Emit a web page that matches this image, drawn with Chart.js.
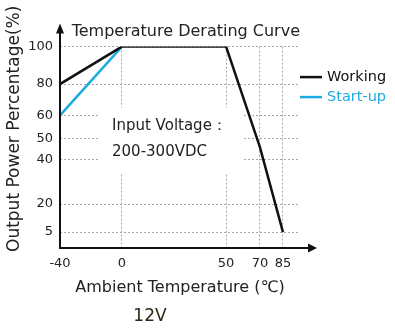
<!DOCTYPE html>
<html>
<head>
<meta charset="utf-8">
<script src="https://cdn.jsdelivr.net/npm/chart.js@4.4.1/dist/chart.umd.min.js"></script>
<style>
    html, body { margin: 0; padding: 0; background: #fff; }
    canvas { display: block; }
</style>
</head>
<body>
<canvas id="deratingChart" width="395" height="331"></canvas>
<script>
// temperature derating curve (12V)

const tempPoints = [-40, 0, 50, 70, 85];
const workingLoad = [80, 100, 100, 46, 5];
const startupTemps = [-40, 0];
const startupLoad = [60, 100];

const xTicks = [-40, 0, 50, 70, 85];
const yTicks = [5, 20, 40, 50, 60, 80, 100];

const chartTitle = 'Temperature Derating Curve';
const xTitle = 'Ambient Temperature (℃)';
const yTitle = 'Output Power Percentage(%)';
const modelLabel = '12V';
const noteLines = ['Input Voltage：', '200-300VDC'];

// printed axes are not evenly spaced -> [value, fraction of axis] stops,
// linear in between
const axisStops = {
    x: [[-40, 0], [0, 0.258], [50, 0.692], [70, 0.833], [85, 0.929], [96, 1]],
    y: [[-3.6, 0], [5, 0.079], [20, 0.218], [40, 0.437], [50, 0.544], [60, 0.658], [80, 0.814], [100, 1]]
};

const FONT = 'DejaVu Sans';
const INK = '#222';

function interp(stops, v, from, to) {
    let i = 0;
    while (i < stops.length - 2 && v > stops[i + 1][from]) i++;
    const a = stops[i], b = stops[i + 1];
    return a[to] + (v - a[from]) * (b[to] - a[to]) / (b[from] - a[from]);
}

class PiecewiseScale extends Chart.LinearScale {
    getPixelForValue(value) {
        return this.getPixelForDecimal(interp(axisStops[this.axis], value, 0, 1));
    }
    getValueForPixel(pixel) {
        return interp(axisStops[this.axis], this.getDecimalForPixel(pixel), 1, 0);
    }
}
PiecewiseScale.id = 'piecewise';
PiecewiseScale.defaults = Chart.LinearScale.defaults;
Chart.register(PiecewiseScale);

Chart.defaults.font.family = FONT;
Chart.defaults.color = INK;

// ----------------------
// extra drawing: note box, arrowed axes, y title, legend
// ----------------------
const decorPlugin = {
    id: 'decor',
    beforeDatasetsDraw(chart) {
        const { ctx, chartArea: a } = chart;
        ctx.save();
        // the note sits on a blank patch of the grid
        ctx.fillStyle = '#fff';
        ctx.fillRect(a.left + 40, a.top + 61, 142, 66);
        ctx.fillStyle = INK;
        ctx.font = `15px "${FONT}"`;
        ctx.textBaseline = 'middle';
        ctx.fillText(noteLines[0], a.left + 52, a.top + 80);
        ctx.fillText(noteLines[1], a.left + 52, a.top + 106);
        ctx.restore();
    },
    afterDraw(chart) {
        const { ctx, chartArea: a } = chart;
        ctx.save();
        ctx.strokeStyle = '#111';
        ctx.fillStyle = '#111';
        ctx.lineWidth = 2;

        // x axis
        ctx.beginPath();
        ctx.moveTo(a.left - 1, a.bottom);
        ctx.lineTo(a.right + 10, a.bottom);
        ctx.stroke();
        ctx.beginPath();
        ctx.moveTo(a.right + 17, a.bottom);
        ctx.lineTo(a.right + 8, a.bottom - 4.5);
        ctx.lineTo(a.right + 8, a.bottom + 4.5);
        ctx.closePath();
        ctx.fill();

        // y axis
        ctx.beginPath();
        ctx.moveTo(a.left, a.bottom + 1);
        ctx.lineTo(a.left, a.top - 15);
        ctx.stroke();
        ctx.beginPath();
        ctx.moveTo(a.left, a.top - 23);
        ctx.lineTo(a.left - 4, a.top - 13);
        ctx.lineTo(a.left + 4, a.top - 13);
        ctx.closePath();
        ctx.fill();

        // y title, reads bottom-up from the x axis
        ctx.save();
        ctx.translate(15, a.bottom + 4);
        ctx.rotate(-Math.PI / 2);
        ctx.fillStyle = INK;
        ctx.font = `17px "${FONT}"`;
        ctx.textAlign = 'left';
        ctx.textBaseline = 'middle';
        ctx.fillText(yTitle, 0, 0);
        ctx.restore();

        // legend
        ctx.font = `14.5px "${FONT}"`;
        ctx.textBaseline = 'middle';
        chart.data.datasets.forEach((ds, i) => {
            const y = a.top + 30.5 + i * 20;
            ctx.strokeStyle = ds.borderColor;
            ctx.lineWidth = 2.5;
            ctx.beginPath();
            ctx.moveTo(a.right, y);
            ctx.lineTo(a.right + 22, y);
            ctx.stroke();
            ctx.fillStyle = ds.legendText;
            ctx.fillText(ds.label, a.right + 27, y);
        });
        ctx.restore();
    }
};

const tickFont = { family: FONT, size: 13 };
const dotted = { display: false, dash: [2, 2] };

new Chart(document.getElementById('deratingChart'), {
    type: 'line',
    data: {
        datasets: [
            {
                label: 'Working',
                data: tempPoints.map((t, i) => ({ x: t, y: workingLoad[i] })),
                borderColor: '#111',
                legendText: '#111',
                borderWidth: 2.5,
                pointRadius: 0,
                tension: 0
            },
            {
                label: 'Start-up',
                data: startupTemps.map((t, i) => ({ x: t, y: startupLoad[i] })),
                borderColor: '#1eaae2',
                legendText: '#1eaae2',
                borderWidth: 2.5,
                pointRadius: 0,
                tension: 0
            }
        ]
    },
    options: {
        responsive: false,
        animation: false,
        events: [],
        layout: { padding: { left: 0, right: 95, top: 0, bottom: 0 } },
        plugins: {
            legend: { display: false },
            tooltip: { enabled: false },
            title: {
                display: true,
                text: chartTitle,
                align: 'end',
                fullSize: false,
                color: INK,
                font: { family: FONT, size: 16, weight: 'normal' },
                padding: { top: 22.4, bottom: 5 }
            },
            subtitle: {
                display: true,
                text: modelLabel,
                position: 'bottom',
                color: '#2e2716',
                font: { family: FONT, size: 17 },
                padding: { top: 0, bottom: 4 }
            }
        },
        scales: {
            x: {
                type: 'piecewise',
                min: -40,
                max: 96,
                afterBuildTicks: s => { s.ticks = xTicks.map(v => ({ value: v })); },
                afterFit: s => { s.height = 58.6; },
                ticks: { font: tickFont, color: INK, padding: 8, autoSkip: false, maxRotation: 0 },
                grid: { color: '#a8a8a8', lineWidth: 1, drawTicks: false },
                border: dotted,
                title: {
                    display: true,
                    text: xTitle,
                    color: INK,
                    font: { family: FONT, size: 16 },
                    padding: { top: 0, bottom: 9 }
                }
            },
            y: {
                type: 'piecewise',
                min: -3.6,
                max: 100,
                afterBuildTicks: s => { s.ticks = yTicks.map(v => ({ value: v })); },
                afterFit: s => { s.width = 60; },
                ticks: { font: tickFont, color: INK, padding: 7, autoSkip: false },
                grid: { color: '#a8a8a8', lineWidth: 1, drawTicks: false },
                border: dotted
            }
        }
    },
    plugins: [decorPlugin]
});
</script>
</body>
</html>
